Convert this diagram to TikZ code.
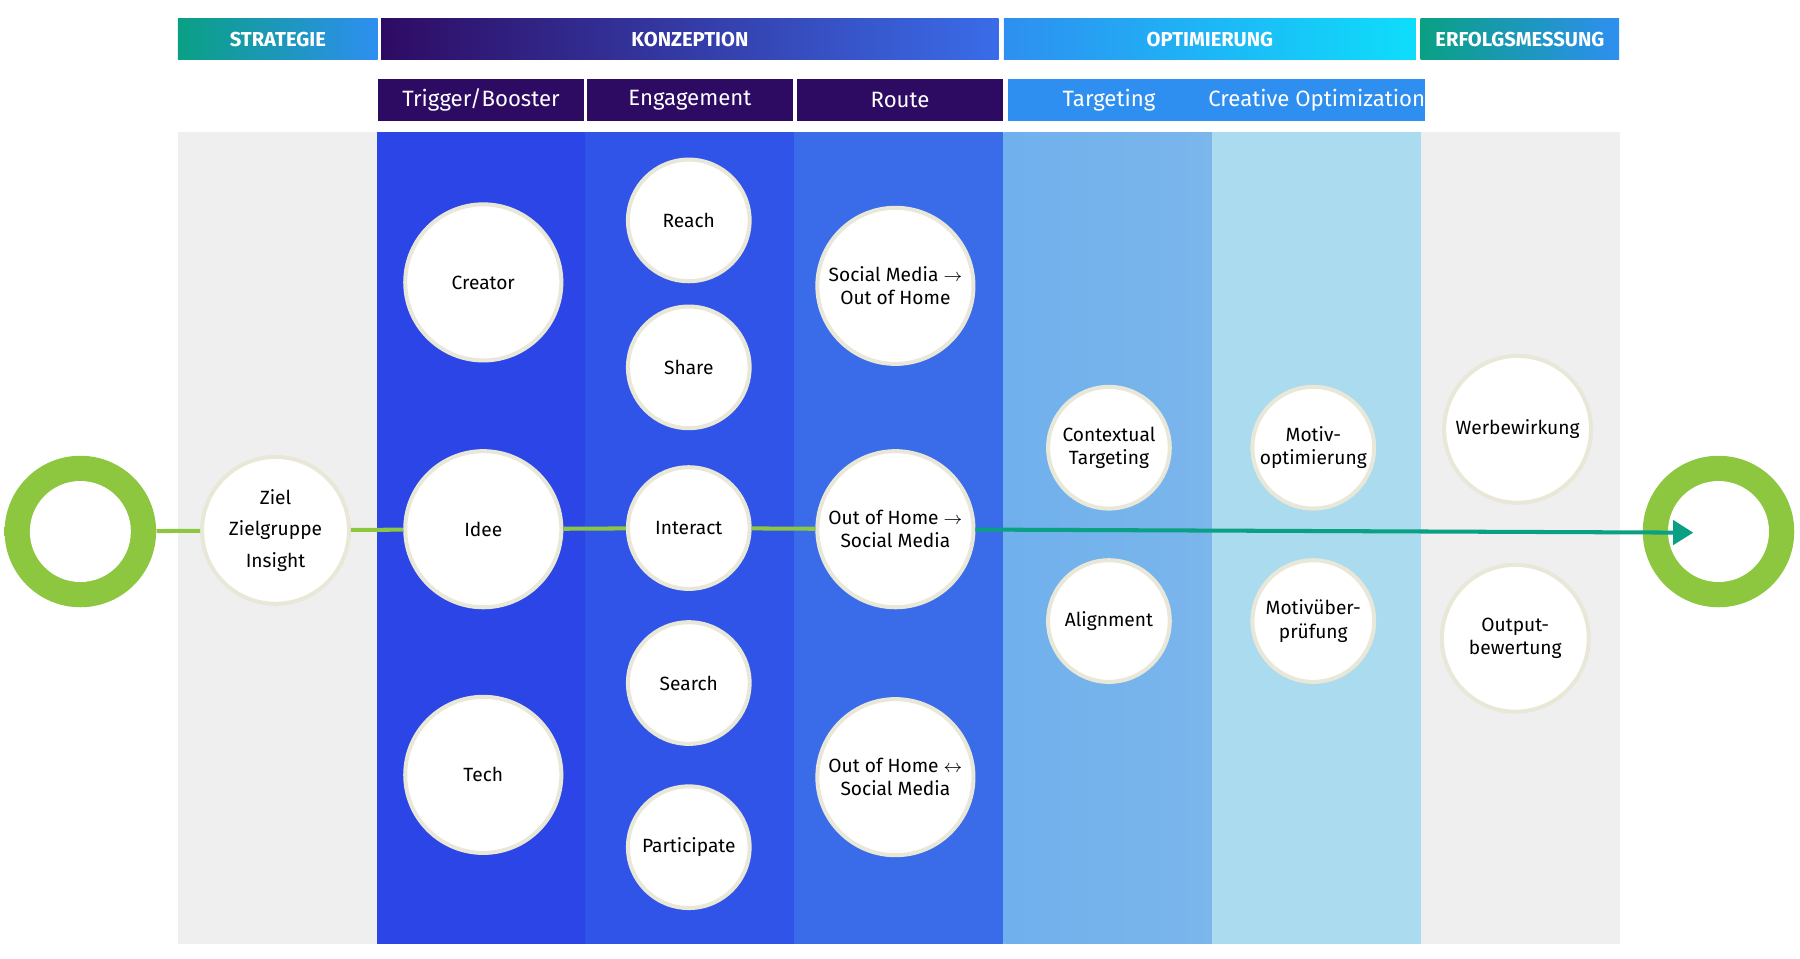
\documentclass[tikz,border=0pt]{standalone}
\usepackage{fontspec}
\setmainfont{Fira Sans}
\usetikzlibrary{arrows.meta}
\definecolor{bgrey}{HTML}{EFEFEF}
\definecolor{dpurple}{HTML}{2E0B63}
\definecolor{cblue}{HTML}{2C45E6}
\definecolor{eblue}{HTML}{3053E8}
\definecolor{rblue}{HTML}{3A6CE9}
\definecolor{tblue}{HTML}{7BB6EC}
\definecolor{oblue}{HTML}{ABDBEF}
\definecolor{hblue}{HTML}{2E8FF0}
\definecolor{rim}{HTML}{E9E8D8}
\definecolor{lgreen}{HTML}{8DC63F}
\definecolor{flowteal}{HTML}{0AA084}
\pgfdeclareradialshading{ringshade}{\pgfpoint{0bp}{0bp}}{color(0bp)=(lgreen);color(33bp)=(lgreen);color(50bp)=(flowteal)}
\begin{document}
\begin{tikzpicture}[x=0.02cm,y=-0.02cm]
        \tikzstyle{phase}=[minimum height=0.72cm,inner sep=0pt,text=white,font=\bfseries\fontsize{10}{12}\selectfont]
        \tikzstyle{substep}=[minimum height=0.72cm,inner sep=0pt,text=white,font=\fontsize{11}{13}\selectfont]
        \tikzstyle{big}=[circle,fill=white,draw=rim,line width=2pt,minimum size=2.72cm,align=center,inner sep=0pt,font=\fontsize{9.5}{11.5}\selectfont]
        \tikzstyle{small}=[big,minimum size=2.12cm]
        \tikzstyle{mid}=[big,minimum size=2.56cm]
        \tikzstyle{ring}=[circle,shading=ringshade,minimum size=2.64cm,inner sep=0pt]
        \tikzstyle{hole}=[circle,fill=white,minimum size=1.76cm,inner sep=0pt]
        \tikzstyle{flow}=[draw,line width=2pt]
       \useasboundingbox (0,0) rectangle (1568,835);
       % columns
       \fill[bgrey] (155,115) rectangle (1411,822);
       \fill[cblue] (328,115) rectangle (510,822);
       \fill[eblue] (510,115) rectangle (692,822);
       \fill[rblue] (692,115) rectangle (874,822);
       \shade[left color=tblue!85!hblue,right color=tblue] (874,115) rectangle (1056,822);
       \fill[oblue] (1056,115) rectangle (1238,822);
       % headers
       \node[phase,left color=flowteal,right color=hblue,minimum width=3.48cm] (strat) at (242,34) {STRATEGIE};
       \node[phase,left color=dpurple,right color=rblue,minimum width=10.76cm] (konz) at (601,34) {KONZEPTION};
       \node[phase,left color=hblue,right color=cyan!70!hblue,minimum width=7.18cm] (opt) at (1054,34) {OPTIMIERUNG};
       \node[phase,left color=flowteal,right color=hblue,minimum width=3.46cm] (erf) at (1324,34) {ERFOLGSMESSUNG};
       \node[substep,fill=dpurple,minimum width=3.58cm] (trig) at (419,87) {Trigger/Booster};
       \node[substep,fill=dpurple,minimum width=3.58cm] (eng) at (601,87) {Engagement};
       \node[substep,fill=dpurple,minimum width=3.58cm] (route) at (784,87) {Route};
       \node[substep,fill=hblue,minimum width=3.52cm] (targ) at (966,87) {Targeting};
       \node[substep,fill=hblue,minimum width=3.6cm] (creo) at (1147,87) {Creative Optimization};
       % rings
       \node[ring] (lring) at (70,463) {};
       \node[hole] (lhole) at (70,463) {};
       \node[ring] (rring) at (1497,463) {};
       \node[hole] (rhole) at (1497,463) {};
       \coordinate (tip) at (1475,464);
       % circles
       \node[mid] (ziel) at (240,462) {Ziel\\[4pt]Zielgruppe\\[4pt]Insight};
       \node[big] (creator) at (421,246) {Creator};
       \node[big] (idee) at (421,461) {Idee};
       \node[big] (tech) at (421,675) {Tech};
       \node[small] (reach) at (600,192) {Reach};
       \node[small] (share) at (600,320) {Share};
       \node[small] (interact) at (600,460) {Interact};
       \node[small] (search) at (600,595) {Search};
       \node[small] (part) at (600,738) {Participate};
       \node[big] (smooh) at (780,249) {Social Media $\rightarrow$\\Out of Home};
       \node[big] (oohsm) at (780,461) {Out of Home $\rightarrow$\\Social Media};
       \node[big] (both) at (780,677) {Out of Home $\leftrightarrow$\\Social Media};
       \node[small] (ctx) at (966,390) {Contextual\\Targeting};
       \node[small] (align) at (966,541) {Alignment};
       \node[small] (motiv) at (1144,390) {Motiv-\\optimierung};
       \node[small] (check) at (1144,541) {Motivüber-\\prüfung};
       \node[mid] (werb) at (1322,374) {Werbewirkung};
       \node[mid] (output) at (1320,556) {Output-\\bewertung};
       % flow
       \path[flow,lgreen] (lring) -- (ziel);
       \path[flow,lgreen] (ziel) -- (idee);
       \path[flow,lgreen] (idee) -- (interact);
       \path[flow,lgreen] (interact) -- (oohsm);
       \path[flow,flowteal,-{Triangle[length=10pt,width=12pt]}] (oohsm) -- (tip);
      \end{tikzpicture}
\end{document}
